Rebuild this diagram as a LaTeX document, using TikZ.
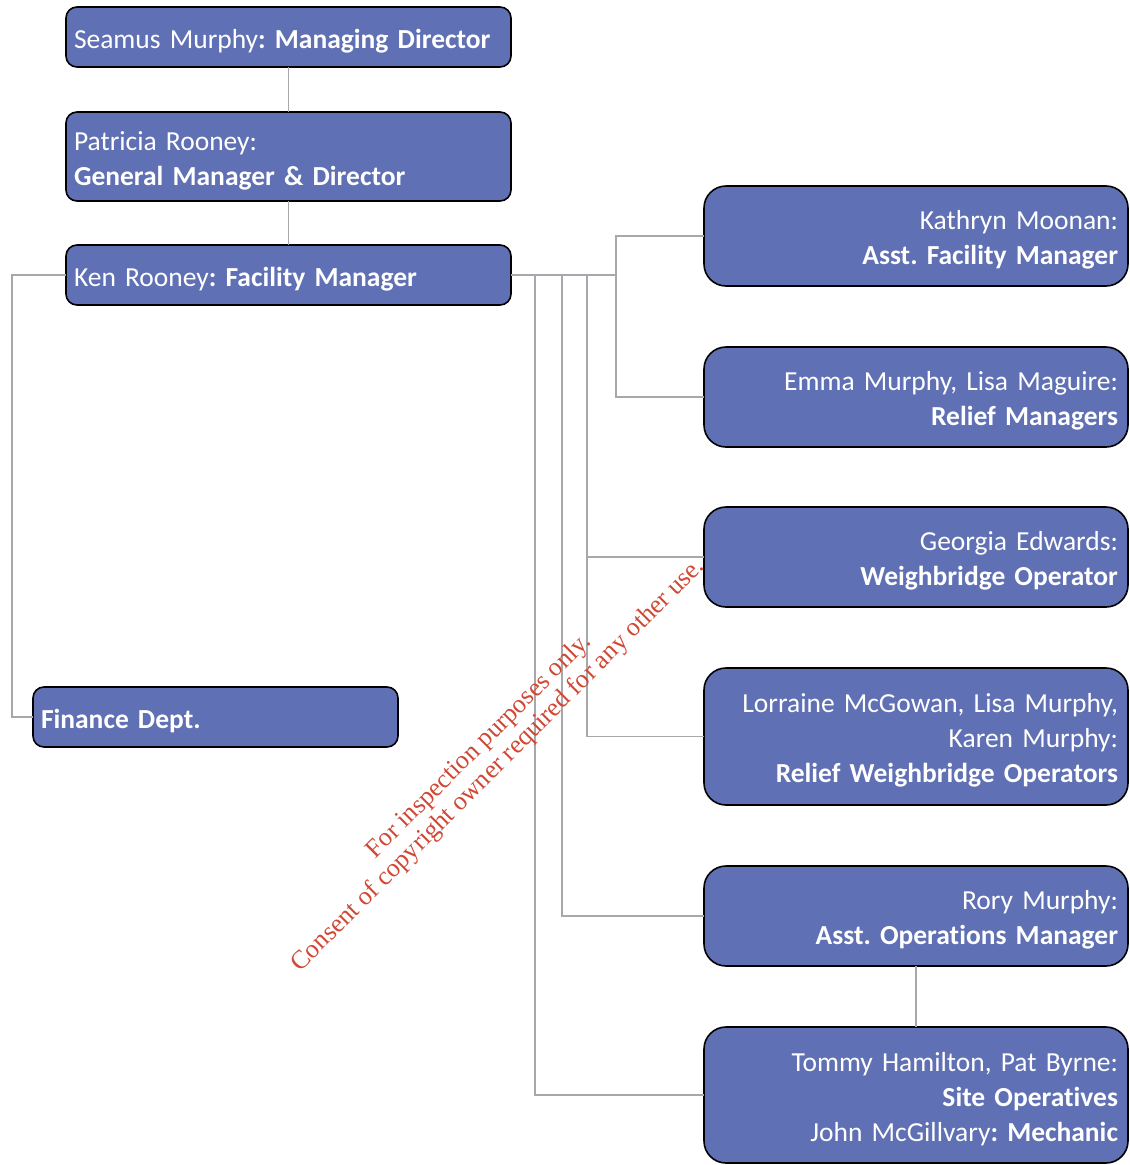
\documentclass[tikz,border=0pt]{standalone}
\usepackage{fontspec}
\setmainfont{Carlito}[Ligatures=NoCommon]
\newfontfamily\wmfont{Liberation Serif}
\definecolor{boxfill}{RGB}{96,112,180}
\definecolor{linkgray}{RGB}{168,168,172}
\definecolor{wmred}{RGB}{208,72,52}
\frenchspacing
\begin{document}
\begin{tikzpicture}[x=1pt,y=-1pt,
  box/.style={draw=black, line width=1.6pt, fill=boxfill, inner sep=0pt,
    outer sep=0pt, anchor=north west},
  lbox/.style={box, rounded corners=11pt, minimum width=445pt, minimum height=#1},
  rbox/.style={box, rounded corners=22pt, minimum width=424pt, minimum height=#1},
  label/.style={text=white, font=\fontsize{27.5}{35}\selectfont, inner sep=0pt,
    anchor=center},
  ltext/.style={label, text width=429pt, align=left},
  rtext/.style={label, text width=404pt, align=right},
  conn/.style={draw=linkgray, line width=1.8pt},
  wm/.style={text=wmred, font=\wmfont\fontsize{26}{27}\selectfont, align=center}]

\useasboundingbox (0,0) rectangle (1130,1165);

% management chain
\node[lbox=60pt] (md) at (66,7) {};
\node[ltext] (mdt) at ([yshift=-4pt]md.center) {Seamus Murphy\textbf{: Managing Director}};
\node[lbox=89pt] (gm) at (66,112) {};
\node[ltext] (gmt) at ([yshift=-4pt]gm.center) {Patricia Rooney:\\\textbf{General Manager \& Director}};
\node[lbox=60pt] (fm) at (66,245) {};
\node[ltext] (fmt) at ([yshift=-4pt]fm.center) {Ken Rooney\textbf{: Facility Manager}};

% finance
\node[box, rounded corners=11pt, minimum width=365pt, minimum height=60pt] (fin) at (33,687) {};
\node[label, text width=349pt, align=left] (fint) at ([yshift=-4pt]fin.center) {\textbf{Finance Dept.}};

% staff reporting to the facility manager
\node[rbox=100pt] (afm) at (704,186) {};
\node[rtext] (afmt) at ([yshift=-4pt]afm.center) {Kathryn Moonan:\\\textbf{Asst. Facility Manager}};
\node[rbox=100pt] (rm) at (704,347) {};
\node[rtext] (rmt) at ([yshift=-4pt]rm.center) {Emma Murphy, Lisa Maguire:\\\textbf{Relief Managers}};
\node[rbox=100pt] (wo) at (704,507) {};
\node[rtext] (wot) at ([yshift=-4pt]wo.center) {Georgia Edwards:\\\textbf{Weighbridge Operator}};
\node[rbox=137pt] (rwo) at (704,668) {};
\node[rtext] (rwot) at ([yshift=-4pt]rwo.center) {Lorraine McGowan, Lisa Murphy,\\Karen Murphy:\\\textbf{Relief Weighbridge Operators}};
\node[rbox=100pt] (aom) at (704,866) {};
\node[rtext] (aomt) at ([yshift=-4pt]aom.center) {Rory Murphy:\\\textbf{Asst. Operations Manager}};
\node[rbox=136pt] (so) at (704,1027) {};
\node[rtext] (sot) at ([yshift=-4.5pt]so.center) {Tommy Hamilton, Pat Byrne:\\\textbf{Site Operatives}\\John McGillvary\textbf{: Mechanic}};

% bus junctions
\coordinate (k0) at (12,275);
\coordinate (b1) at (535,275);
\coordinate (b2) at (562,275);
\coordinate (b3) at (587,275);
\coordinate (b4) at (616,275);

\draw[conn] (md) -- (gm);
\draw[conn] (gm) -- (fm);
\draw[conn] (fm.west) -- (k0) |- (fin.west);
\draw[conn] (fm.east) -- (b4);
\draw[conn] (b4) |- (afm.west);
\draw[conn] (b4) |- (rm.west);
\draw[conn] (b3) |- (wo.west);
\draw[conn] (b3) |- (rwo.west);
\draw[conn] (b2) |- (aom.west);
\draw[conn] (b1) |- (so.west);
\draw[conn] (aom) -- (so);

% watermark
\node[wm, rotate=45] (mark) at (489,756)
  {For inspection purposes only.\\Consent of copyright owner required for any other use.};
\end{tikzpicture}
\end{document}
